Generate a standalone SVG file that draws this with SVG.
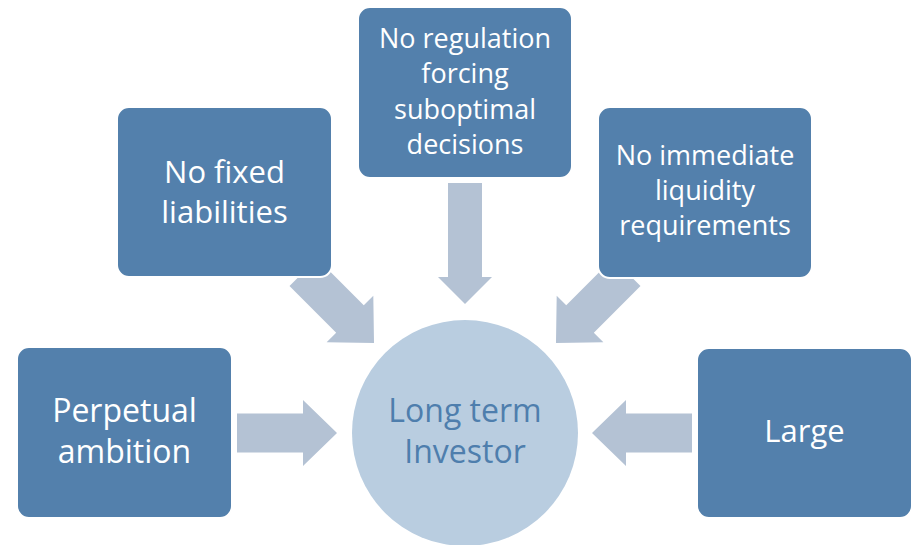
<svg xmlns="http://www.w3.org/2000/svg" width="916" height="545" viewBox="0 0 916 545">
<style>
.box{fill:#5380AC;stroke:#ffffff;stroke-width:2}
.arr{fill:#B4C2D4}
.t{font-family:"Open Sans","Liberation Sans",sans-serif;fill:#ffffff;text-anchor:middle}
.c{font-family:"Open Sans","Liberation Sans",sans-serif;fill:#4E7EAD;text-anchor:middle;font-size:32px}
</style>
<defs>
<path id="ha" d="M0,-19.5 H66 V-33 L100,0 L66,33 V19.5 H0 Z"/>
</defs>
<g id="connectors">
<use href="#ha" class="arr" transform="translate(237,433)"/>
<use href="#ha" class="arr" transform="translate(692,433) rotate(180)"/>
<use href="#ha" class="arr" transform="translate(303.3,272.3) rotate(45)"/>
<use href="#ha" class="arr" transform="translate(626.7,272.3) rotate(135)"/>
<path class="arr" d="M448,183 H482 V277 H492 L465,304 L438,277 H448 Z"/>
</g>
<g id="center">
<circle cx="465" cy="433" r="113" fill="#B9CDE0"/>
<text class="c" x="465" y="422">Long term</text>
<text class="c" x="465" y="463">Investor</text>
</g>
<g id="perpetual">
<rect class="box" x="17" y="347" width="215" height="171" rx="12"/>
<text class="t" x="124.5" y="422" font-size="32">Perpetual</text>
<text class="t" x="124.5" y="463" font-size="32">ambition</text>
</g>
<g id="fixed">
<rect class="box" x="117" y="107" width="215" height="170" rx="12"/>
<text class="t" x="224.5" y="183" font-size="31">No fixed</text>
<text class="t" x="224.5" y="223" font-size="31">liabilities</text>
</g>
<g id="regulation">
<rect class="box" x="358" y="7" width="214" height="171" rx="12"/>
<text class="t" x="465" y="48" font-size="27">No regulation</text>
<text class="t" x="465" y="83" font-size="27">forcing</text>
<text class="t" x="465" y="119" font-size="27">suboptimal</text>
<text class="t" x="465" y="154" font-size="27">decisions</text>
</g>
<g id="liquidity">
<rect class="box" x="598" y="107" width="214" height="171" rx="12"/>
<text class="t" x="705" y="165" font-size="27">No immediate</text>
<text class="t" x="705" y="200" font-size="27">liquidity</text>
<text class="t" x="705" y="235" font-size="27">requirements</text>
</g>
<g id="large">
<rect class="box" x="697" y="348" width="215" height="170" rx="12"/>
<text class="t" x="804.5" y="442" font-size="31">Large</text>
</g>
</svg>
